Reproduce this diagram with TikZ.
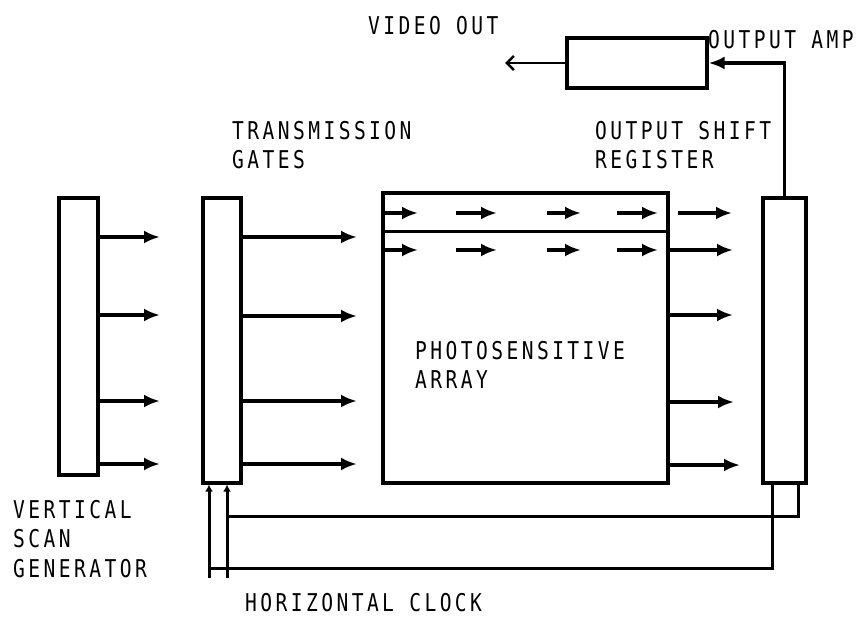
\documentclass[tikz,border=0pt]{standalone}
\usepackage{fontspec}
\newfontfamily\lblfont[FakeStretch=0.8,LetterSpace=14]{DejaVu Sans Mono}
\usetikzlibrary{arrows.meta}
\begin{document}
\begin{tikzpicture}[x=1pt,y=-1pt,
  box/.style={draw,line width=3.2pt,inner sep=0pt},
  lbl/.style={font=\lblfont\fontsize{24.5}{29.5}\selectfont,inner sep=0pt,anchor=north west,align=left},
  arr/.style={line width=3.2pt,-{Latex[length=16pt,width=13pt]}},
  wire/.style={line width=3pt},
  clk/.style={line width=3pt,-{Latex[length=7pt,width=8pt]}},
]
\useasboundingbox (0,0) rectangle (866,617);
% boxes
\node[box,minimum width=39pt,minimum height=277pt] (vsg) at (78.5,336.5) {};
\node[box,minimum width=38pt,minimum height=285pt] (tg) at (222,340.5) {};
\node[box,minimum width=285pt,minimum height=290pt] (pa) at (525.5,338) {};
\node[box,minimum width=43pt,minimum height=285pt] (osr) at (784.5,340.5) {};
\node[box,minimum width=140pt,minimum height=50pt] (amp) at (637,63) {};
% labels
\node[lbl] (videoout) at (368,16) {VIDEO OUT};
\node[lbl] (outamp) at (708,30) {OUTPUT AMP};
\node[lbl] (tgl) at (232,121) {TRANSMISSION\\GATES};
\node[lbl] (osrl) at (595,121) {OUTPUT SHIFT\\REGISTER};
\node[lbl] (pal) at (415,341) {PHOTOSENSITIVE\\ARRAY};
\node[lbl] (vsgl) at (13,500) {VERTICAL\\SCAN\\GENERATOR};
\node[lbl] (hcl) at (245,593) {HORIZONTAL CLOCK};
% vertical scan generator arrows
\foreach \y [count=\i] in {237,315,401,464} {
  \coordinate (v\i) at (160,\y);
  \draw[arr] (vsg.east |- v\i) -- (v\i);
}
% transmission gate arrows
\foreach \y [count=\i] in {237,316,401,464} {
  \coordinate (t\i) at (357,\y);
  \draw[arr] (tg.east |- t\i) -- (t\i);
}
% photosensitive array internal line
\coordinate (sep) at (0,232);
\draw[wire] (pa.west |- sep) -- (pa.east |- sep);
% internal arrows in top rows
\foreach \y [count=\r] in {213,250} {
  \foreach \a/\b [count=\k] in {383/418,456/497,547/581,617/658} {
    \coordinate (ps\r\k) at (\a,\y);
    \coordinate (pe\r\k) at (\b,\y);
    \draw[arr] (ps\r\k) -- (pe\r\k);
  }
}
% arrows to output shift register
\coordinate (o0s) at (678,213);
\coordinate (o0) at (732,213);
\draw[arr] (o0s) -- (o0);
\foreach \y/\e [count=\i] in {250/733,315/733,402/734,465/740} {
  \coordinate (o\i) at (\e,\y);
  \draw[arr] (pa.east |- o\i) -- (o\i);
}
% output amp connections
\draw[arr] (osr.north) |- (amp.east);
\coordinate (vout) at (505,63);
\draw[line width=2.6pt,-{Straight Barb[length=7pt,width=14pt]}] (amp.west) -- (vout);
% horizontal clock wiring
\coordinate (hA) at (227,578);
\coordinate (hB) at (209,578);
\coordinate (cA) at (798,516);
\coordinate (cB) at (772,568);
\draw[clk] (hA) -- (tg.south -| hA);
\draw[clk] (hB) -- (tg.south -| hB);
\draw[wire] (hA |- cA) -- (cA) -- (osr.south -| cA);
\draw[wire] (hB |- cB) -- (cB) -- (osr.south -| cB);
\end{tikzpicture}
\end{document}
